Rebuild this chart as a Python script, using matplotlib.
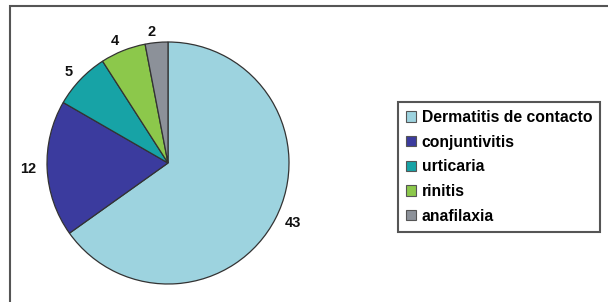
import matplotlib.pyplot as plt
from matplotlib.patches import Rectangle

# Data
categories = ['Dermatitis de contacto', 'conjuntivitis', 'urticaria', 'rinitis', 'anafilaxia']
values = [43, 12, 5, 4, 2]
colors = ['#9dd3df', '#3b3b9e', '#17a3a6', '#8cc84b', '#8c9199']

fw, fh = 6.08, 3.02
fig = plt.figure(figsize=(fw, fh), dpi=100)
plt.rcParams['font.family'] = 'Liberation Sans'

# outer frame around the chart area (cut on right and bottom like the original)
fig.patches.append(Rectangle((10 / 608, -0.1), 1.2, 1 - 5.5 / 302 + 0.1,
                             transform=fig.transFigure, fill=False,
                             edgecolor='#555555', linewidth=1.5))

# pie axes: centre (168, 163) px, radius ~121 px
r = 121
ax = fig.add_axes([(168 - r) / 608, (302 - 163 - r) / 302, 2 * r / 608, 2 * r / 302])
wedges, texts = ax.pie(values, colors=colors, startangle=90, counterclock=False,
                       labels=[str(v) for v in values], labeldistance=1.09,
                       wedgeprops=dict(edgecolor='#333333', linewidth=0.9),
                       textprops=dict(fontsize=10.5, fontweight='bold', color='#111111'))
ax.set_xlim(-1, 1)
ax.set_ylim(-1, 1)

leg = fig.legend(wedges, categories, loc='upper left',
                 bbox_to_anchor=(398 / 608, 1 - 102 / 302),
                 prop=dict(size=11.3, weight='bold'),
                 handlelength=0.65, handleheight=0.65, handletextpad=0.35,
                 labelspacing=0.62, borderpad=0.5, borderaxespad=0,
                 fancybox=False, framealpha=1)
leg.get_frame().set_edgecolor('#555555')
leg.get_frame().set_linewidth(1.5)
for h in leg.legend_handles:
    h.set_edgecolor('#555555')
    h.set_linewidth(0.8)

plt.savefig('out.png', dpi=100)
